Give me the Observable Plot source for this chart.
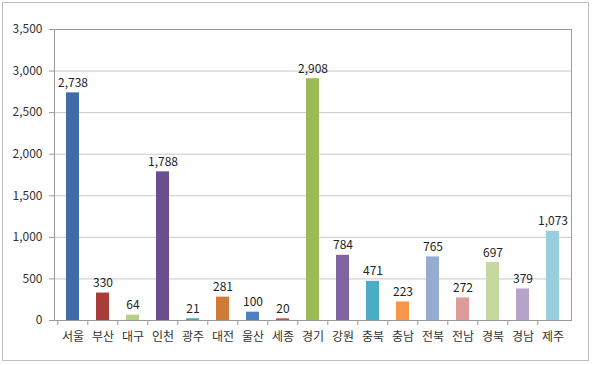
<!DOCTYPE html>
<html><head><meta charset="utf-8">
<script src="https://cdn.jsdelivr.net/npm/d3@7"></script>
<script src="https://cdn.jsdelivr.net/npm/@observablehq/plot@0.6"></script>
<style>
html,body{margin:0;padding:0;background:#fff;}
#wrap{position:relative;width:593px;height:365px;}
#border{position:absolute;left:2px;top:2px;width:585px;height:357px;border:1px solid #bdbdbd;pointer-events:none;}
</style></head>
<body><div id="wrap"><div id="border"></div></div>
<script>
const regions = ["서울","부산","대구","인천","광주","대전","울산","세종","경기","강원","충북","충남","전북","전남","경북","경남","제주"];
const counts = [2738,330,64,1788,21,281,100,20,2908,784,471,223,765,272,697,379,1073];
const colors = ["#3f6ca8","#a83c38","#b9cf86","#6a4f8e","#46a7c2","#cd7b37","#4e7fc0","#c0504d","#9bbb59","#8064a2","#4bacc6","#f79646","#98acd2","#dd9c9a","#c5d89e","#b6a5c9","#98cfde"];
const yTicks = [0,500,1000,1500,2000,2500,3000,3500];

const data = regions.map((r,i)=>({region:r,value:counts[i],color:colors[i]}));
const fmt = d3.format(",");
const font = "'Malgun Gothic','Noto Sans CJK KR',sans-serif";
const step = (593 - 54 - 22) / regions.length;

const chart = Plot.plot({
  width: 593, height: 365,
  marginLeft: 54, marginRight: 22, marginTop: 29, marginBottom: 45,
  style: {fontFamily: font, fontSize: "12px", color: "#222", background: "transparent"},
  x: {domain: regions, paddingInner: 0.58, paddingOuter: 0.29, align: 0.5, label: null},
  y: {domain: [0,3500], label: null},
  marks: [
    Plot.gridY(yTicks, {stroke: "#c8c8c8", strokeOpacity: 1}),
    Plot.frame({stroke: "#9a9a9a"}),
    Plot.barY(data, {x: "region", y: "value", fill: "color"}),
    Plot.text(data, {x: "region", y: "value", text: d=>fmt(d.value), lineAnchor: "bottom", dy: -6, fill: "#222", fontSize: 12}),
    Plot.axisY(yTicks, {tickFormat: fmt, tickSize: 5, tickPadding: 7, stroke: "#9a9a9a", fill: "#333", fontSize: 12}),
    Plot.axisX({tickSize: 0, tickPadding: 12, fill: "#333", fontSize: 12}),
    Plot.axisX({tickSize: 5, text: null, dx: -step/2, stroke: "#9a9a9a"}),
    Plot.ruleY([0], {stroke: "#9a9a9a"})
  ]
});
document.getElementById("wrap").appendChild(chart);
chart.style.position = "absolute"; chart.style.left = "0"; chart.style.top = "0";
</script>
</body></html>
